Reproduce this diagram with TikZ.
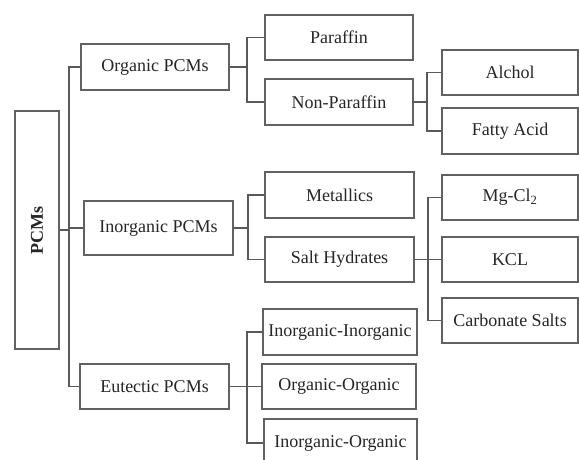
\documentclass[tikz,border=0pt]{standalone}
\usepackage{fontspec}
\setmainfont{Liberation Serif}
\begin{document}
\begin{tikzpicture}[x=1pt,y=-1pt,
  box/.style={draw=black!62, line width=1.3pt, text=black!85, inner sep=0pt,
    font=\fontsize{18}{20}\selectfont},
  conn/.style={draw=black!65, line width=1.3pt}]
\useasboundingbox (0,0) rectangle (579,459);
\fill[white] (0,0) rectangle (579,459);
% boxes: defined by corners
\newcommand{\bx}[6]{\node[box, minimum width={(#4-#2)*1pt}, minimum height={(#5-#3)*1pt}] (#1) at ({(#2+#4)/2},{(#3+#5)/2}) {#6};}
\bx{pcms}{15}{111}{59}{349}{\rotatebox{90}{\bfseries PCMs}}
\bx{org}{81}{44}{229}{90}{Organic PCMs}
\bx{inorg}{84}{201}{233}{255}{Inorganic PCMs}
\bx{eut}{80}{364}{229}{409}{Eutectic PCMs}
\bx{par}{265}{15}{413}{60}{Paraffin}
\bx{npar}{265}{79}{413}{125}{Non-Paraffin}
\bx{alc}{442}{50}{578}{95}{Alchol}
\bx{fat}{442}{108}{578}{154}{Fatty Acid}
\bx{met}{265}{172}{414}{218}{Metallics}
\bx{salt}{265}{237}{414}{282}{Salt Hydrates}
\bx{mg}{442}{175}{578}{220}{Mg-Cl\textsubscript{2}}
\bx{kcl}{442}{237}{578}{282}{KCL}
\bx{carb}{442}{298}{578}{343}{Carbonate Salts}
\bx{ii}{263}{309}{417}{355}{Inorganic-Inorganic}
\bx{oo}{262}{364}{416}{409}{Organic-Organic}
\bx{io}{264}{419}{417}{467}{Inorganic-Organic}
% bus coordinates
\coordinate (b0) at (69,0);
\coordinate (b1) at (247,0);
\coordinate (b2) at (427,0);
\coordinate (b3) at (248,0);
\coordinate (b4) at (428,0);
% level 0
\draw[conn] (pcms.east) -- (pcms.east -| b0);
\draw[conn] (org.west) -- (org.west -| b0) -- (eut.west -| b0) -- (eut.west);
\draw[conn] (inorg.west) -- (inorg.west -| b0);
% organic
\draw[conn] (org.east) -- (org.east -| b1);
\draw[conn] (par.west) -- (par.west -| b1) -- (npar.west -| b1) -- (npar.west);
% non-paraffin
\draw[conn] (npar.east) -- (npar.east -| b2);
\draw[conn] (alc.west) -- (alc.west -| b2) -- (fat.west -| b2) -- (fat.west);
% inorganic
\draw[conn] (inorg.east) -- (inorg.east -| b3);
\draw[conn] (met.west) -- (met.west -| b3) -- (salt.west -| b3) -- (salt.west);
% salt hydrates
\draw[conn] (salt.east) -- (kcl.west);
\draw[conn] (mg.west) -- (mg.west -| b4) -- (carb.west -| b4) -- (carb.west);
% eutectic
\draw[conn] (eut.east) -- (eut.east -| oo.west);
\draw[conn] (ii.west) -- (ii.west -| b1) -- (io.west -| b1) -- (io.west);
\end{tikzpicture}
\end{document}
